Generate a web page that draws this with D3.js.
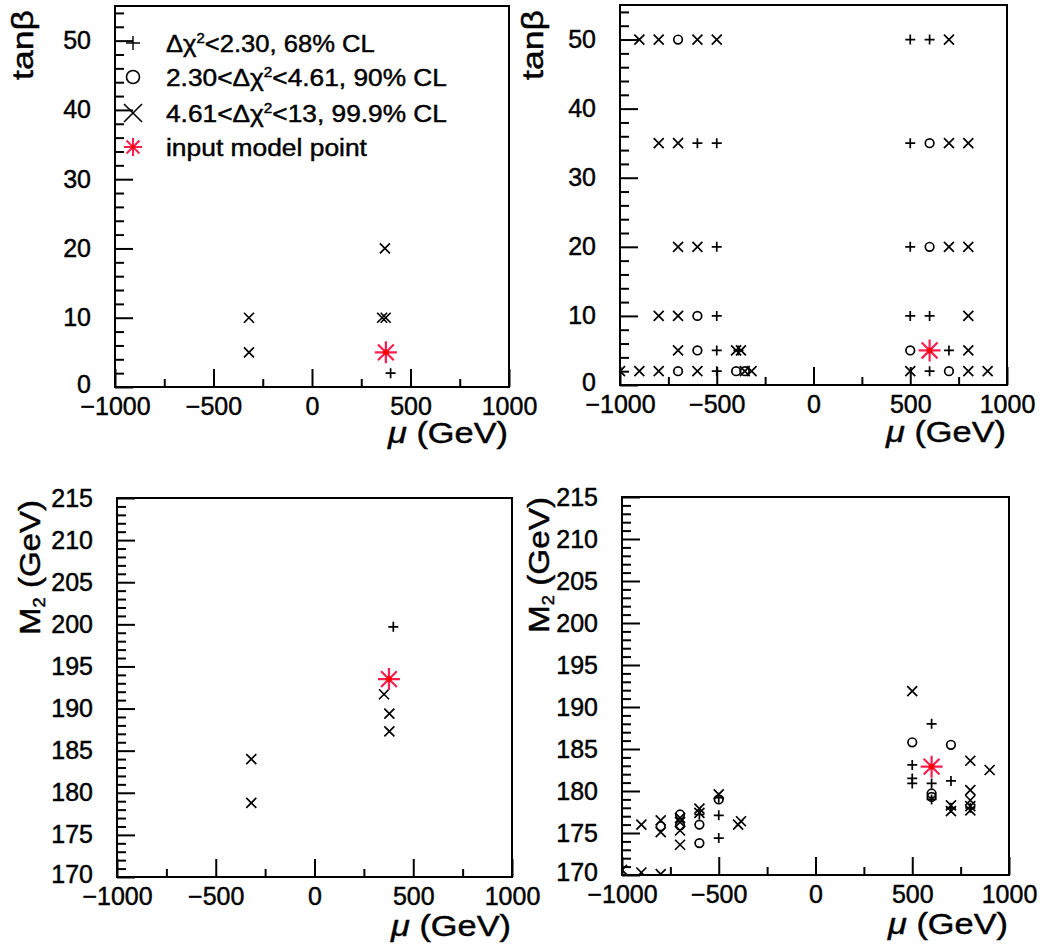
<!DOCTYPE html>
<html><head><meta charset="utf-8">
<script src="https://cdn.jsdelivr.net/npm/d3@7"></script>
<style>
body{margin:0;background:#fff}
svg{display:block}
text{font-family:"Liberation Sans",Arial,Helvetica,sans-serif;fill:#000;stroke:#000;stroke-width:0.45px}
</style>
</head><body>
<svg id="c" width="1049" height="950"></svg>
<script>
// ---------------- data ----------------
const muDomain = [-1000, 1000];
const tanbDomain = [0, 55];
const m2Domain = [170, 215];
const muMajorTicks = [-1000, -500, 0, 500, 1000];
const muMinorTicks = [-750, -250, 250, 750];
const tanbMajorTicks = [0, 10, 20, 30, 40, 50];
const tanbMinorTicks = [2,4,6,8,12,14,16,18,22,24,26,28,32,34,36,38,42,44,46,48,52,54];
const m2MajorTicks = [170, 175, 180, 185, 190, 195, 200, 205, 210, 215];
const m2MinorTicks = [171,172,173,174,176,177,178,179,181,182,183,184,186,187,188,189,191,192,193,194,196,197,198,199,201,202,203,204,206,207,208,209,211,212,213,214];

const legendLabels = [
  "Δχ²<2.30, 68% CL",
  "2.30<Δχ²<4.61, 90% CL",
  "4.61<Δχ²<13, 99.9% CL",
  "input model point"
];

// top-left: tanβ vs μ
const p1Plus   = [[399, 2]];
const p1Circle = [];
const p1Cross  = [[-320, 10], [-320, 5], [370, 20], [356, 10], [374, 10]];
const p1Star   = [[375, 5]];

// top-right: tanβ vs μ
const p2Plus = [[500,50],[600,50],[-600,35],[-500,35],[500,35],[-500,20],[500,20],
  [-500,10],[500,10],[600,10],[-500,5],[700,5],[-388,5],[-500,2],[600,2]];
const p2Circle = [[-700,50],[600,35],[600,20],[-600,10],[-600,5],[500,5],[-700,2],[-400,2],[-355,2],[700,2]];
const p2Cross = [[-900,50],[-800,50],[-600,50],[-500,50],[700,50],[-800,35],[-700,35],[700,35],[800,35],
  [-700,20],[-600,20],[700,20],[800,20],[-800,10],[-700,10],[800,10],[-700,5],[-400,5],[-375,5],[800,5],
  [-1000,2],[-900,2],[-800,2],[-600,2],[-355,2],[-320,2],[500,2],[800,2],[900,2]];
const p2Star = [[600, 5]];

// bottom-left: M2 vs μ
const p3Plus   = [[399, 199.7]];
const p3Circle = [];
const p3Cross  = [[-320, 184.0], [-320, 178.8], [352, 191.7], [379, 189.4], [379, 187.3]];
const p3Star   = [[377, 193.5]];

// bottom-right: M2 vs μ
const p4Plus = [[600,188.0],[500,183.1],[500,181.5],[500,180.9],[600,180.9],[700,181.2],[600,179.0],
  [700,178.0],[800,178.0],[-600,177.2],[-500,177.1],[-500,174.4],[-500,179.2]];
const p4Circle = [[500,185.8],[700,185.5],[600,179.7],[600,179.3],[-800,175.8],[-700,177.2],[-700,175.9],
  [-600,176.0],[-600,173.8],[-500,179.0]];
const p4Cross = [[500,191.9],[800,183.6],[900,182.5],[800,180.1],[800,178.9],[800,178.2],[800,177.7],
  [700,178.3],[700,177.6],[-900,176.0],[-800,176.5],[-800,175.1],[-700,176.8],[-700,176.3],[-700,175.3],
  [-700,173.6],[-600,177.9],[-600,177.4],[-500,179.6],[-400,176.0],[-385,176.4],[-900,170.3],[-800,170.1],[-1000,170.6]];
const p4Star = [[600, 182.9]];

// ---------------- drawing ----------------
const svg = d3.select("#c");
svg.append("rect").attr("width", 1049).attr("height", 950).attr("fill", "#fff");
const FONT = '"Liberation Sans", Arial, Helvetica, sans-serif';
const STAR = "#ff1f4f";

function fitText(parent, o) {
  const t = parent.append("text").attr("text-anchor", o.anchor || "start")
    .style("font-size", o.size + "px");
  let cur = 0;
  o.parts.forEach(p => {
    const ts = t.append("tspan").text(p.t);
    const s = p.shift || 0;
    if (s !== cur) ts.attr("dy", s - cur);
    cur = s;
    if (p.italic) ts.style("font-style", "italic");
    if (p.fs) ts.style("font-size", p.fs + "px");
  });
  const w = t.node().getComputedTextLength();
  const sx = o.width ? o.width / w : 1;
  t.attr("transform", `translate(${o.x},${o.y}) rotate(${o.rot || 0}) scale(${sx},1)`);
  return t;
}

const plusP  = (cx, cy, s) => `M${cx - s},${cy}H${cx + s}M${cx},${cy - s}V${cy + s}`;
const crossP = (cx, cy, s) => `M${cx - s},${cy - s}L${cx + s},${cy + s}M${cx - s},${cy + s}L${cx + s},${cy - s}`;
const starP  = (cx, cy, s) => plusP(cx, cy, s) + crossP(cx, cy, s * 0.72);

function drawMarkers(g, type, pts, x, y) {
  const sel = g.selectAll(null).data(pts).enter();
  if (type === "plus") sel.append("path").attr("d", d => plusP(x(d[0]), y(d[1]), 5))
    .attr("stroke", "#000").attr("stroke-width", 1.7).attr("fill", "none");
  if (type === "cross") sel.append("path").attr("d", d => crossP(x(d[0]), y(d[1]), 5))
    .attr("stroke", "#000").attr("stroke-width", 1.7).attr("fill", "none");
  if (type === "circle") sel.append("circle").attr("cx", d => x(d[0])).attr("cy", d => y(d[1])).attr("r", 4.3)
    .attr("stroke", "#000").attr("stroke-width", 1.7).attr("fill", "none");
  if (type === "star") {
    sel.append("path").attr("d", d => starP(x(d[0]), y(d[1]), 11))
      .attr("stroke", STAR).attr("stroke-width", 2.2).attr("fill", "none");
    sel.append("circle").attr("cx", d => x(d[0])).attr("cy", d => y(d[1])).attr("r", 2.8).attr("fill", "red");
  }
}

function drawPanel(cfg) {
  const g = svg.append("g");
  const x = d3.scaleLinear().domain(muDomain).range([cfg.left, cfg.right]);
  const y = d3.scaleLinear().domain(cfg.yDomain).range([cfg.bottom, cfg.top]);

  const styleAxis = a => {
    a.attr("font-size", 25).attr("font-family", FONT);
    a.select(".domain").remove();
    a.selectAll(".tick line").attr("stroke", "#000").attr("stroke-width", 2);
    a.selectAll(".tick text").attr("fill", "#000");
  };
  // x axis
  g.append("g").attr("transform", `translate(0,${cfg.bottom})`)
    .call(d3.axisBottom(x).tickValues(muMajorTicks).tickSizeInner(-18).tickSizeOuter(0).tickPadding(10).tickFormat(d3.format("d")))
    .call(styleAxis);
  g.append("g").attr("transform", `translate(0,${cfg.bottom})`)
    .call(d3.axisBottom(x).tickValues(muMinorTicks).tickSizeInner(-8).tickSizeOuter(0).tickFormat(""))
    .call(styleAxis);
  // y axis
  const yAx = g.append("g").attr("transform", `translate(${cfg.left},0)`)
    .call(d3.axisLeft(y).tickValues(cfg.yMajor).tickSizeInner(-18).tickSizeOuter(0).tickPadding(24).tickFormat(d3.format("d")))
    .call(styleAxis);
  // lowest y label sits slightly above the x labels, as in the reference
  yAx.selectAll(".tick text").filter(d => d === cfg.yDomain[0]).attr("dy", "0.2em");
  g.append("g").attr("transform", `translate(${cfg.left},0)`)
    .call(d3.axisLeft(y).tickValues(cfg.yMinor).tickSizeInner(-9).tickSizeOuter(0).tickFormat(""))
    .call(styleAxis);

  // frame
  g.append("rect").attr("x", cfg.left).attr("y", cfg.top)
    .attr("width", cfg.right - cfg.left).attr("height", cfg.bottom - cfg.top)
    .attr("fill", "none").attr("stroke", "#000").attr("stroke-width", 2);

  // markers
  const clipId = "clip" + cfg.id;
  svg.append("clipPath").attr("id", clipId).append("rect")
    .attr("x", cfg.left).attr("y", cfg.top).attr("width", cfg.right - cfg.left).attr("height", cfg.bottom - cfg.top);
  const mg = g.append("g").attr("clip-path", `url(#${clipId})`);
  drawMarkers(mg, "cross", cfg.cross, x, y);
  drawMarkers(mg, "circle", cfg.circle, x, y);
  drawMarkers(mg, "plus", cfg.plus, x, y);
  drawMarkers(mg, "star", cfg.star, x, y);

  // titles
  fitText(g, { x: cfg.right - 1, y: cfg.xTitleY, anchor: "end", size: 29, width: 120,
    parts: [{ t: "μ", italic: true }, { t: " (GeV)" }] });
  fitText(g, { x: cfg.yTitleX, y: cfg.yTitleTop, anchor: "end", size: 29, rot: -90, width: cfg.yTitleLen,
    parts: cfg.yTitleParts });
  return { g, x, y };
}

const tanbTitle = [{ t: "tanβ" }];
const m2Title = [{ t: "M" }, { t: "2", shift: 5, fs: 16 }, { t: " (GeV)", shift: 0 }];

drawPanel({ id: 1, left: 115, right: 509, top: 6, bottom: 387, yDomain: tanbDomain,
  yMajor: tanbMajorTicks, yMinor: tanbMinorTicks, xTitleY: 443, yTitleX: 33, yTitleTop: 10, yTitleLen: 70,
  yTitleParts: tanbTitle, plus: p1Plus, circle: p1Circle, cross: p1Cross, star: p1Star });
drawPanel({ id: 2, left: 620, right: 1007, top: 5, bottom: 385, yDomain: tanbDomain,
  yMajor: tanbMajorTicks, yMinor: tanbMinorTicks, xTitleY: 442, yTitleX: 543, yTitleTop: 10, yTitleLen: 70,
  yTitleParts: tanbTitle, plus: p2Plus, circle: p2Circle, cross: p2Cross, star: p2Star });
drawPanel({ id: 3, left: 117, right: 512, top: 498, bottom: 877, yDomain: m2Domain,
  yMajor: m2MajorTicks, yMinor: m2MinorTicks, xTitleY: 936, yTitleX: 40, yTitleTop: 500, yTitleLen: 135,
  yTitleParts: m2Title, plus: p3Plus, circle: p3Circle, cross: p3Cross, star: p3Star });
drawPanel({ id: 4, left: 622, right: 1009, top: 497, bottom: 875, yDomain: m2Domain,
  yMajor: m2MajorTicks, yMinor: m2MinorTicks, xTitleY: 934, yTitleX: 549, yTitleTop: 497, yTitleLen: 136,
  yTitleParts: m2Title, plus: p4Plus, circle: p4Circle, cross: p4Cross, star: p4Star });

// legend (top-left panel)
const lg = svg.append("g");
const legRows = [43, 77, 113, 147];
const legWidths = [209, 281, 281, 201];
const lx = 133;
lg.append("path").attr("d", plusP(lx, legRows[0], 7)).attr("stroke", "#000").attr("stroke-width", 1.4).attr("fill", "none");
lg.append("circle").attr("cx", lx).attr("cy", legRows[1]).attr("r", 6.5).attr("stroke", "#000").attr("stroke-width", 1.6).attr("fill", "none");
lg.append("path").attr("d", crossP(lx, legRows[2], 9)).attr("stroke", "#000").attr("stroke-width", 1.6).attr("fill", "none");
lg.append("path").attr("d", starP(lx, legRows[3], 9)).attr("stroke", STAR).attr("stroke-width", 2).attr("fill", "none");
lg.append("circle").attr("cx", lx).attr("cy", legRows[3]).attr("r", 2).attr("fill", "red");

legendLabels.forEach((lab, i) => {
  const parts = [];
  const idx = lab.indexOf("²");
  if (idx >= 0) {
    parts.push({ t: lab.slice(0, idx) });
    parts.push({ t: "2", shift: -9, fs: 14 });
    parts.push({ t: lab.slice(idx + 1), shift: 0 });
  } else parts.push({ t: lab });
  fitText(lg, { x: 166, y: legRows[i] + 8.5, anchor: "start", size: 24, width: legWidths[i], parts });
});
</script>
</body></html>
